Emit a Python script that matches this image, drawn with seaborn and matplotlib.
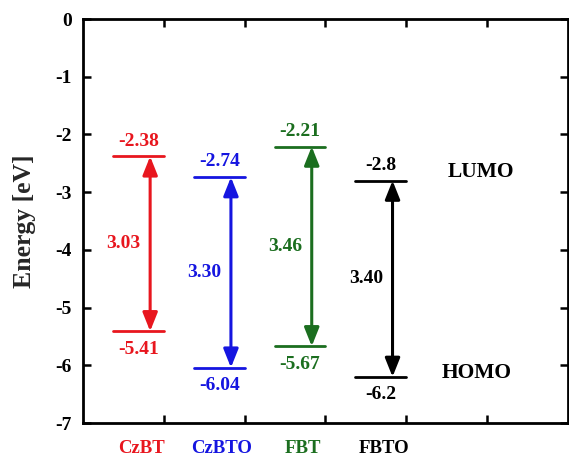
import matplotlib
matplotlib.use("Agg")
import matplotlib.pyplot as plt
import seaborn as sns
import pandas as pd

# ---- data ----
materials = ["CzBT", "CzBTO", "FBT", "FBTO"]
lumo = [-2.38, -2.74, -2.21, -2.8]
homo = [-5.41, -6.04, -5.67, -6.2]
lumo_labels = ["-2.38", "-2.74", "-2.21", "-2.8"]
homo_labels = ["-5.41", "-6.04", "-5.67", "-6.2"]
gap_labels = ["3.03", "3.30", "3.46", "3.40"]
colors = ["#e8161e", "#1515e0", "#1b6e1f", "#000000"]
yticks = [0, -1, -2, -3, -4, -5, -6, -7]

sns.set_theme(style="ticks")
plt.rcParams["font.family"] = ["Liberation Serif", "DejaVu Serif"]
plt.rcParams["font.weight"] = "bold"

fig = plt.figure(figsize=(5.69, 4.58), dpi=100)
ax = fig.add_axes([0.146, 0.0764, 0.852, 0.882])

# segments for energy levels
rows = []
for i, m in enumerate(materials):
    for lvl, val in (("L", lumo[i]), ("H", homo[i])):
        rows.append(dict(x=i + 0.37, E=val, material=m, seg=m + lvl))
        rows.append(dict(x=i + 1.0, E=val, material=m, seg=m + lvl))
df = pd.DataFrame(rows)

sns.lineplot(data=df, x="x", y="E", hue="material", units="seg",
             estimator=None, palette=dict(zip(materials, colors)),
             legend=False, lw=2, ax=ax, sort=False)

fs = 14
for i, m in enumerate(materials):
    c = colors[i]
    xa = i + 0.83
    ax.annotate("", xy=(xa, lumo[i]), xytext=(xa, homo[i]),
                arrowprops=dict(arrowstyle="<|-|>,head_length=0.7,head_width=0.28",
                                color=c, lw=2.2,
                                mutation_scale=16, shrinkA=0, shrinkB=0))
    xc = i + 0.685
    ax.annotate(lumo_labels[i], (xc, lumo[i]), xytext=(0, 11),
                textcoords="offset points", ha="center", va="center",
                color=c, fontsize=fs, fontweight="bold")
    ax.annotate(homo_labels[i], (xc, homo[i]), xytext=(0, -13),
                textcoords="offset points", ha="center", va="center",
                color=c, fontsize=fs, fontweight="bold")
    ax.text(i + 0.5, (lumo[i] + homo[i]) / 2, gap_labels[i], ha="center",
            va="center", color=c, fontsize=fs, fontweight="bold")
    ax.annotate(m, (i + 0.72, -7), xytext=(0, -18), textcoords="offset points",
                ha="center", va="center", color=c, fontsize=13.5,
                fontweight="bold", annotation_clip=False)

ax.text(4.92, -2.65, "LUMO", ha="center", va="center", fontsize=15.5,
        fontweight="bold", color="black")
ax.text(4.87, -6.13, "HOMO", ha="center", va="center", fontsize=15.5,
        fontweight="bold", color="black")

ax.set_xlim(0, 6)
ax.set_ylim(-7, 0)
ax.set_xticks([1, 2, 3, 4, 5])
ax.set_xticklabels([])
ax.set_yticks(yticks)
ax.set_yticklabels([str(t) for t in yticks])
ax.set_xlabel("")
ax.set_ylabel("Energy [eV]", fontsize=18.5, fontweight="bold", labelpad=14)
ax.tick_params(direction="in", length=6, width=1.8, top=True, right=True,
               labelsize=14, colors="black", pad=8)
for lab in ax.get_yticklabels():
    lab.set_fontweight("bold")
for s in ax.spines.values():
    s.set_visible(True)
    s.set_linewidth(2)
    s.set_color("black")

fig.savefig("out.png", dpi=100)
